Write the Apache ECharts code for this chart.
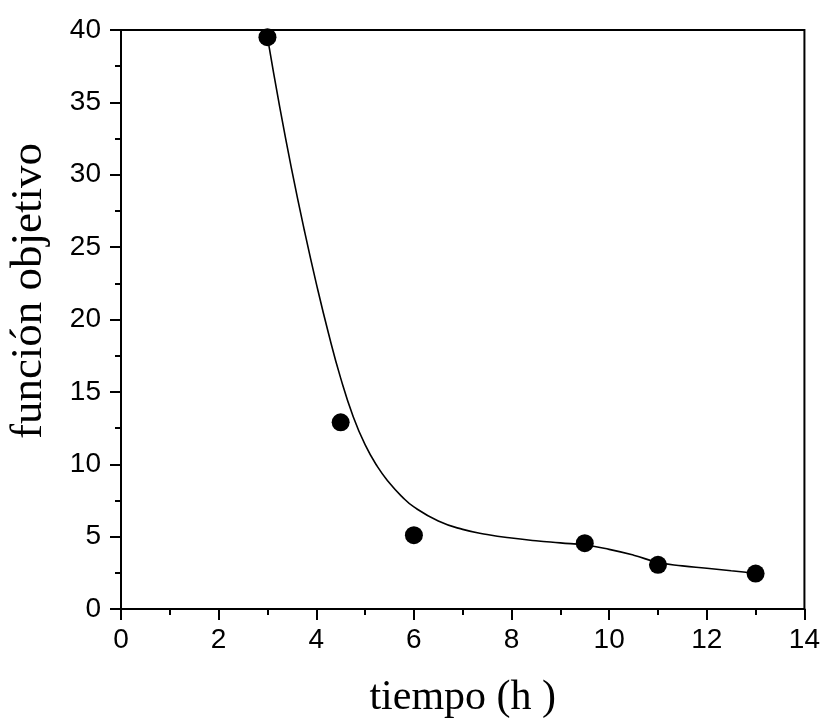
<!DOCTYPE html>
<html>
<head>
<meta charset="utf-8">
<script src="https://cdn.jsdelivr.net/npm/echarts@6/dist/echarts.min.js"></script>
<style>html,body{margin:0;padding:0;background:#fff}#c{width:823px;height:725px}</style>
</head>
<body>
<div id="c"></div>
<script>
// Measured points
var pointX = [3, 4.5, 6, 9.5, 11, 13];
var pointY = [39.5, 12.9, 5.1, 4.55, 3.05, 2.45];
// Fitted curve
var curveX = [3.0, 3.25, 3.5, 3.75, 4.0, 4.25, 4.5, 4.75, 5.0, 5.25, 5.5, 5.75, 6.0, 6.5, 7.0, 7.5, 8.0, 8.5, 9.0, 9.5, 10.0, 10.5, 11.0, 11.5, 12.0, 12.5, 13.0];
var curveY = [39.5, 34.7, 30.3, 26.25, 22.5, 19.05, 15.95, 13.35, 11.35, 9.85, 8.7, 7.78, 7.05, 6.08, 5.5, 5.15, 4.9, 4.72, 4.57, 4.42, 4.12, 3.72, 3.22, 2.98, 2.82, 2.64, 2.47];
var xTicks = [0, 2, 4, 6, 8, 10, 12, 14];
var yTicks = [0, 5, 10, 15, 20, 25, 30, 35, 40];
var xTitle = 'tiempo (h )';
var yTitle = 'función objetivo';

function zip(a, b) { return a.map(function (v, i) { return [v, b[i]]; }); }

var chart = echarts.init(document.getElementById('c'), null, { renderer: 'canvas' });
var labelStyle = { color: '#000', fontFamily: 'Liberation Sans, Arial, sans-serif', fontSize: 28 };
chart.setOption({
  animation: false,
  backgroundColor: '#fff',
  grid: { left: 121, right: 17, top: 30, bottom: 116, show: true, borderColor: '#000', borderWidth: 2, backgroundColor: 'transparent' },
  xAxis: {
    type: 'value', min: xTicks[0], max: xTicks[xTicks.length - 1], interval: 2,
    name: xTitle, nameLocation: 'middle', nameGap: 68,
    nameTextStyle: { color: '#000', fontFamily: 'Liberation Serif, Times New Roman, serif', fontSize: 42 },
    axisLine: { show: true, onZero: false, lineStyle: { color: '#000', width: 2 } },
    axisTick: { show: true, inside: false, length: 11, lineStyle: { color: '#000', width: 2 } },
    minorTick: { show: true, splitNumber: 2, length: 6, lineStyle: { color: '#000', width: 2 } },
    axisLabel: Object.assign({ margin: 17 }, labelStyle),
    splitLine: { show: false }
  },
  yAxis: {
    type: 'value', min: yTicks[0], max: yTicks[yTicks.length - 1], interval: 5,
    axisLine: { show: true, onZero: false, lineStyle: { color: '#000', width: 2 } },
    axisTick: { show: true, inside: false, length: 11, lineStyle: { color: '#000', width: 2 } },
    minorTick: { show: true, splitNumber: 2, length: 6, lineStyle: { color: '#000', width: 2 } },
    axisLabel: Object.assign({ margin: 20 }, labelStyle),
    splitLine: { show: false }
  },
  graphic: [{
    type: 'text', x: 29, y: 291, rotation: Math.PI / 2,
    style: { text: yTitle, fill: '#000', font: '45px "Liberation Serif", "Times New Roman", serif', textAlign: 'center', textVerticalAlign: 'middle' }
  }],
  series: [
    { type: 'line', data: zip(curveX, curveY), showSymbol: false, smooth: 0.5, lineStyle: { color: '#000', width: 1.6 }, z: 2 },
    { type: 'scatter', data: zip(pointX, pointY), symbol: 'circle', symbolSize: 18, itemStyle: { color: '#000', opacity: 1 }, z: 3 }
  ]
});
</script>
</body>
</html>
